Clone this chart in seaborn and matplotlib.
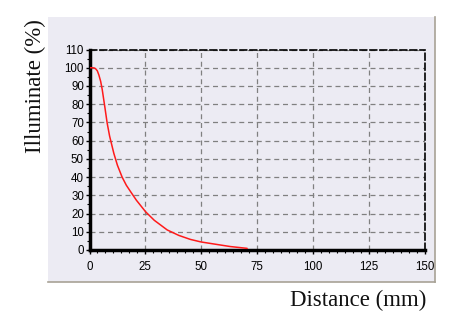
import matplotlib
matplotlib.use("Agg")
import matplotlib.pyplot as plt
from matplotlib.ticker import MultipleLocator
import seaborn as sns
import pandas as pd

distance_mm = [0.0, 1.0, 2.0, 2.7, 3.5, 4.2, 5.0, 5.7, 6.8, 7.9, 9.0, 10.9, 12.5, 14.6,
               16.5, 18.4, 21.0, 25.1, 29.0, 34.8, 40.0, 45.2, 50.0, 55.7, 63.0, 70.6]
illuminate_pct = [100.0, 100.0, 99.9, 99.5, 98.3, 96.0, 92.5, 88.0, 79.0, 69.7, 62.5, 53.0,
                  46.5, 40.0, 35.5, 32.0, 27.3, 21.0, 16.3, 11.0, 8.0, 5.8, 4.4, 3.3, 1.9, 0.9]
x_ticks = [0, 25, 50, 75, 100, 125, 150]
y_ticks = [0, 10, 20, 30, 40, 50, 60, 70, 80, 90, 100, 110]

df = pd.DataFrame({"Distance": distance_mm, "Illuminate": illuminate_pct})

sns.set_theme(style="white")
plt.rcParams["font.family"] = ["Liberation Sans", "DejaVu Sans"]

fig = plt.figure(figsize=(4.69, 3.25), dpi=100)
fig.patch.set_facecolor("white")

W, H = 469, 325
px0, py0, px1, py1 = 48, 17, 435, 282
bg = fig.add_axes([px0 / W, 1 - py1 / H, (px1 - px0) / W, (py1 - py0) / H], zorder=0)
bg.set_facecolor("#ecebf3")
bg.set_xticks([])
bg.set_yticks([])
for side in ["left", "top"]:
    bg.spines[side].set_visible(False)
for side in ["right", "bottom"]:
    bg.spines[side].set_visible(True)
    bg.spines[side].set_color("#a8a296")
    bg.spines[side].set_linewidth(1.2)

ax0, ay0, ax1, ay1 = 89.5, 49.5, 424.5, 250
ax = fig.add_axes([ax0 / W, 1 - ay1 / H, (ax1 - ax0) / W, (ay1 - ay0) / H], zorder=1)
ax.set_facecolor("none")

sns.lineplot(data=df, x="Distance", y="Illuminate", ax=ax, color="#ff1a1a",
             linewidth=1.1, zorder=5)

ax.set_xlim(0, 150)
ax.set_ylim(0, 110)
ax.set_xticks(x_ticks)
ax.set_yticks(y_ticks)
ax.xaxis.set_minor_locator(MultipleLocator(25 / 7))
ax.yaxis.set_minor_locator(MultipleLocator(5))
ax.tick_params(axis="both", which="major", direction="out", length=3, width=1,
               color="black", labelsize=8.3, labelcolor="black",
               bottom=True, left=True)
ax.tick_params(axis="both", which="minor", direction="out", length=2, width=0.8,
               color="black", bottom=True, left=True)
ax.tick_params(axis="x", which="major", pad=5)
ax.tick_params(axis="y", which="major", pad=1)

ax.grid(True, which="major", color="#808080", linestyle=(0, (4, 3)), linewidth=0.9)

for side in ["left", "bottom"]:
    ax.spines[side].set_color("black")
    ax.spines[side].set_linewidth(2.5)
    ax.spines[side].set_visible(True)
for side in ["top", "right"]:
    ax.spines[side].set_color("black")
    ax.spines[side].set_linewidth(1.2)
    ax.spines[side].set_linestyle((0, (4, 2)))
    ax.spines[side].set_visible(True)

ax.set_xlabel("")
ax.set_ylabel("")
fig.text(358 / W, 1 - 300 / H, "Distance (mm)", family=["Liberation Serif", "DejaVu Serif"],
         fontsize=16.5, ha="center", va="center", color="#111111")
fig.text(35 / W, 1 - 86 / H, "Illuminate (%)", family=["Liberation Serif", "DejaVu Serif"],
         fontsize=16.5, ha="center", va="center", rotation=90, color="#111111")

fig.savefig("out.png", dpi=100)
